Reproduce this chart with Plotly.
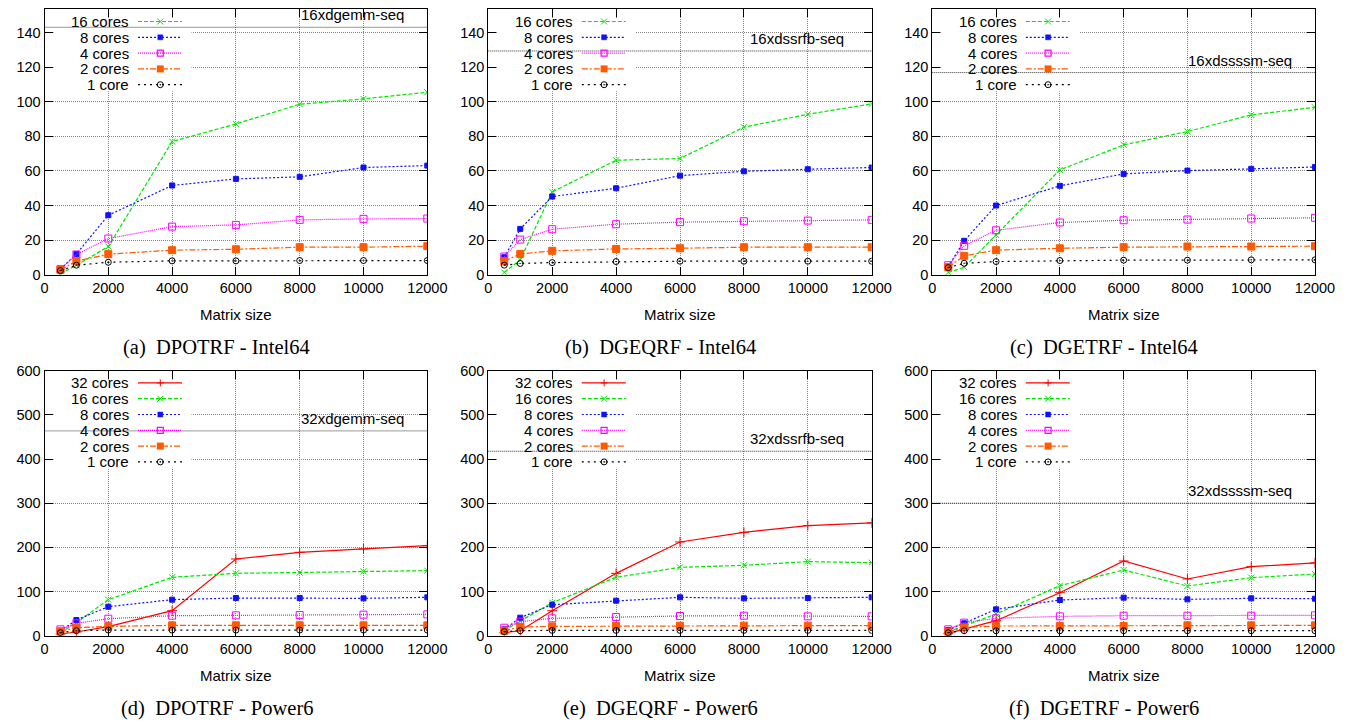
import plotly.graph_objects as go

# ---------------- data ----------------
matrix_size = [500, 1000, 2000, 4000, 6000, 8000, 10000, 12000]
series_intel = ["16 cores", "8 cores", "4 cores", "2 cores", "1 core"]
series_power = ["32 cores", "16 cores", "8 cores", "4 cores", "2 cores", "1 core"]
x_ticks = [0, 2000, 4000, 6000, 8000, 10000, 12000]
y_ticks_intel = [0, 20, 40, 60, 80, 100, 120, 140]
y_ticks_power = [0, 100, 200, 300, 400, 500, 600]

# (a) DPOTRF - Intel64
dpotrf_intel_16 = [0.5, 5.5, 16.3, 77.0, 87.2, 98.6, 101.7, 105.5]
dpotrf_intel_8 = [3.2, 12.0, 34.4, 51.6, 55.4, 56.6, 62.0, 63.1]
dpotrf_intel_4 = [3.2, 11.7, 20.9, 27.8, 28.8, 31.7, 32.3, 32.5]
dpotrf_intel_2 = [2.8, 7.8, 11.9, 14.2, 14.7, 15.9, 15.9, 16.5]
dpotrf_intel_1 = [2.4, 5.5, 7.2, 8.0, 8.0, 8.2, 8.2, 8.2]
dpotrf_intel_ref = 143.1

# (b) DGEQRF - Intel64
dgeqrf_intel_16 = [1.3, 8.6, 47.9, 66.2, 67.2, 85.3, 92.8, 98.8]
dgeqrf_intel_8 = [10.1, 26.5, 45.2, 50.0, 57.3, 59.8, 61.0, 62.0]
dgeqrf_intel_4 = [10.5, 20.3, 26.3, 29.2, 30.4, 30.9, 31.3, 31.7]
dgeqrf_intel_2 = [7.8, 12.0, 13.8, 14.9, 15.3, 15.9, 15.9, 15.9]
dgeqrf_intel_1 = [5.5, 6.5, 7.0, 7.6, 7.8, 7.8, 7.8, 7.8]
dgeqrf_intel_ref = 129.4

# (c) DGETRF - Intel64
dgetrf_intel_16 = [1.3, 4.3, 23.0, 60.6, 75.1, 82.8, 92.4, 96.8]
dgetrf_intel_8 = [4.7, 19.6, 40.0, 51.4, 58.3, 60.2, 61.2, 62.3]
dgetrf_intel_4 = [5.5, 16.7, 25.7, 30.2, 31.5, 31.9, 32.5, 32.9]
dgetrf_intel_2 = [4.3, 10.9, 14.2, 15.3, 15.9, 16.3, 16.3, 16.5]
dgetrf_intel_1 = [4.1, 6.6, 7.6, 8.2, 8.4, 8.4, 8.6, 8.6]
dgetrf_intel_ref = 116.9

# (d) DPOTRF - Power6
dpotrf_power_32 = [3.8, 8.3, 20.4, 56.6, 173.7, 188.8, 196.4, 203.9]
dpotrf_power_16 = [6.8, 29.5, 81.6, 132.2, 141.2, 142.7, 145.8, 147.3]
dpotrf_power_8 = [11.3, 35.5, 65.7, 81.6, 85.3, 85.3, 84.6, 86.9]
dpotrf_power_4 = [14.4, 28.0, 38.5, 45.3, 46.1, 46.8, 47.6, 48.3]
dpotrf_power_2 = [9.8, 18.1, 21.1, 23.4, 23.4, 23.4, 23.4, 23.4]
dpotrf_power_1 = [6.8, 11.3, 12.8, 12.8, 12.8, 12.8, 12.8, 12.8]
dpotrf_power_ref = 463.7

# (e) DGEQRF - Power6
dgeqrf_power_32 = [6.8, 11.3, 56.6, 141.2, 212.2, 234.1, 249.2, 255.3]
dgeqrf_power_16 = [11.3, 33.2, 74.8, 132.2, 154.8, 159.4, 167.7, 165.4]
dgeqrf_power_8 = [14.4, 40.8, 70.2, 79.3, 86.9, 84.6, 85.3, 86.9]
dgeqrf_power_4 = [18.1, 31.7, 39.3, 42.3, 44.6, 45.3, 43.8, 43.8]
dgeqrf_power_2 = [11.3, 19.6, 21.1, 21.9, 22.7, 22.7, 22.7, 22.7]
dgeqrf_power_1 = [9.1, 11.3, 12.1, 12.1, 12.1, 12.1, 12.1, 12.1]
dgeqrf_power_ref = 417.7

# (f) DGETRF - Power6
dgetrf_power_32 = [5.3, 14.4, 34.0, 97.4, 169.2, 128.4, 156.3, 164.7]
dgetrf_power_16 = [9.1, 21.9, 49.1, 113.3, 148.8, 112.5, 131.4, 139.7]
dgetrf_power_8 = [12.8, 28.0, 59.7, 80.8, 86.1, 82.3, 84.6, 83.8]
dgetrf_power_4 = [14.4, 29.5, 39.3, 43.8, 45.3, 45.3, 45.3, 46.1]
dgetrf_power_2 = [9.1, 18.9, 21.9, 21.9, 21.9, 23.4, 23.4, 23.4]
dgetrf_power_1 = [6.8, 11.3, 11.3, 11.3, 11.3, 11.3, 11.3, 11.3]
dgetrf_power_ref = 300.0

ref_labels = ["16xdgemm-seq", "16xdssrfb-seq", "16xdssssm-seq",
              "32xdgemm-seq", "32xdssrfb-seq", "32xdssssm-seq"]
captions = ["(a)\u00a0 DPOTRF - Intel64", "(b)\u00a0 DGEQRF - Intel64", "(c)\u00a0 DGETRF - Intel64",
            "(d)\u00a0 DPOTRF - Power6", "(e)\u00a0 DGEQRF - Power6", "(f)\u00a0 DGETRF - Power6"]
x_title = "Matrix size"

panels = [
    dict(names=series_intel, ys=[dpotrf_intel_16, dpotrf_intel_8, dpotrf_intel_4, dpotrf_intel_2, dpotrf_intel_1], ref=dpotrf_intel_ref),
    dict(names=series_intel, ys=[dgeqrf_intel_16, dgeqrf_intel_8, dgeqrf_intel_4, dgeqrf_intel_2, dgeqrf_intel_1], ref=dgeqrf_intel_ref),
    dict(names=series_intel, ys=[dgetrf_intel_16, dgetrf_intel_8, dgetrf_intel_4, dgetrf_intel_2, dgetrf_intel_1], ref=dgetrf_intel_ref),
    dict(names=series_power, ys=[dpotrf_power_32, dpotrf_power_16, dpotrf_power_8, dpotrf_power_4, dpotrf_power_2, dpotrf_power_1], ref=dpotrf_power_ref),
    dict(names=series_power, ys=[dgeqrf_power_32, dgeqrf_power_16, dgeqrf_power_8, dgeqrf_power_4, dgeqrf_power_2, dgeqrf_power_1], ref=dgeqrf_power_ref),
    dict(names=series_power, ys=[dgetrf_power_32, dgetrf_power_16, dgetrf_power_8, dgetrf_power_4, dgetrf_power_2, dgetrf_power_1], ref=dgetrf_power_ref),
]

# ---------------- styles ----------------
STYLE = {
    "32 cores": dict(color="#ff0000", dash="solid", symbol="cross-thin-open", size=7, glyph="plus"),
    "16 cores": dict(color="#00e600", dash="4px,2px", symbol="x-thin-open", size=6, glyph="x"),
    "8 cores": dict(color="#1010ff", dash="2px,2px", symbol="square", size=5, glyph="smallsq"),
    "4 cores": dict(color="#ff00ff", dash="1px,1px", symbol="square-open", size=7, glyph="opensq"),
    "2 cores": dict(color="#ff5a00", dash="6px,2px,2px,2px", symbol="square", size=7, glyph="bigsq"),
    "1 core": dict(color="#000000", dash="2px,4px", symbol="circle-open-dot", size=6, glyph="circle"),
}

W, H = 1359, 728
COL_L = [44.5, 488.3, 932.3]
COL_R = [427.3, 871.7, 1315.0]
ROW_T = [9.3, 370.7]
ROW_B = [274.7, 635.7]
Y_RANGE = [[0, 153.5], [0, 600]]
SANS = "Liberation Sans, Arial, sans-serif"
SERIF = "Liberation Serif, Times New Roman, serif"
GRID = "#858585"

fig = go.Figure()
layout = dict(width=W, height=H, margin=dict(l=0, r=0, t=0, b=0, pad=0, autoexpand=False),
              paper_bgcolor="white", plot_bgcolor="white", showlegend=False)
shapes = []
annotations = []

KEY_TEXT_X = 86.5
KEY_LINE_X0, KEY_LINE_X1, KEY_MARK_X = 93.5, 137.5, 115.8
KEY_ROW0, KEY_PITCH = 12.2, 15.8
MASK_X0, MASK_W = 9, 147
MASK_Y0 = 9
MASK_H = [82, 97]


def pshape(i, **kw):
    xr = "x domain" if i == 1 else f"x{i} domain"
    yr = "y domain" if i == 1 else f"y{i} domain"
    d = dict(xref=xr, yref=yr, xsizemode="pixel", ysizemode="pixel", xanchor=0, yanchor=1)
    d.update(kw)
    return d


def glyph_shapes(i, g, cx, cy, color):
    out = []
    if g == "plus":
        out.append(pshape(i, type="path", path=f"M{cx-3.5},{cy} L{cx+3.5},{cy} M{cx},{cy-3.5} L{cx},{cy+3.5}",
                          line=dict(color=color, width=1)))
    elif g == "x":
        out.append(pshape(i, type="path", path=f"M{cx-3},{cy-3} L{cx+3},{cy+3} M{cx-3},{cy+3} L{cx+3},{cy-3}",
                          line=dict(color=color, width=1)))
    elif g == "smallsq":
        out.append(pshape(i, type="rect", x0=cx-2.5, x1=cx+2.5, y0=cy-2.5, y1=cy+2.5,
                          fillcolor=color, line=dict(color=color, width=0.5)))
    elif g == "opensq":
        out.append(pshape(i, type="rect", x0=cx-3, x1=cx+3, y0=cy-3, y1=cy+3,
                          fillcolor="rgba(0,0,0,0)", line=dict(color=color, width=1.2)))
    elif g == "bigsq":
        out.append(pshape(i, type="rect", x0=cx-3.5, x1=cx+3.5, y0=cy-3.5, y1=cy+3.5,
                          fillcolor=color, line=dict(color=color, width=0)))
    elif g == "circle":
        out.append(pshape(i, type="circle", x0=cx-3, x1=cx+3, y0=cy-3, y1=cy+3,
                          fillcolor="rgba(0,0,0,0)", line=dict(color=color, width=1)))
        out.append(pshape(i, type="circle", x0=cx-0.8, x1=cx+0.8, y0=cy-0.8, y1=cy+0.8,
                          fillcolor=color, line=dict(color=color, width=0)))
    return out


for k, p in enumerate(panels):
    i = k + 1
    row, col = k // 3, k % 3
    xs = "" if i == 1 else str(i)
    layout[f"xaxis{xs}"] = dict(
        domain=[COL_L[col] / W, COL_R[col] / W], anchor=f"y{xs}", range=[0, 12000], automargin=False,
        tickvals=x_ticks, tickformat="d", ticks="inside", ticklen=8, tickcolor="black", tickwidth=1,
        showline=True, linecolor="black", linewidth=1, mirror="allticks",
        showgrid=True, gridcolor=GRID, gridwidth=1, griddash="1px,1px", zeroline=False,
        tickfont=dict(family=SANS, size=14.5, color="black"), fixedrange=True)
    layout[f"yaxis{xs}"] = dict(
        domain=[1 - ROW_B[row] / H, 1 - ROW_T[row] / H], anchor=f"x{xs}", range=Y_RANGE[row], automargin=False,
        tickvals=y_ticks_intel if row == 0 else y_ticks_power, tickformat="d",
        ticks="inside", ticklen=8, tickcolor="black", tickwidth=1,
        showline=True, linecolor="black", linewidth=1, mirror="allticks",
        showgrid=True, gridcolor=GRID, gridwidth=1, griddash="1px,1px", zeroline=False,
        tickfont=dict(family=SANS, size=14.5, color="black"), fixedrange=True)

    # key mask (hides the grid behind the key; no data lies in this corner)
    shapes.append(pshape(i, type="rect", x0=MASK_X0, x1=MASK_W, y0=-MASK_Y0, y1=-MASK_H[row],
                         fillcolor="white", line=dict(width=0)))
    # reference line
    shapes.append(dict(type="line", xref=f"x{xs} domain", yref=f"y{xs}", x0=0, x1=1,
                       y0=p["ref"], y1=p["ref"], line=dict(color="#333333", width=1, dash="1px,1px")))
    annotations.append(dict(xref=f"x{xs} domain", yref=f"y{xs}", x=0.805, y=p["ref"], yshift=12.5,
                            text=ref_labels[k], showarrow=False, xanchor="center", yanchor="middle",
                            font=dict(family=SANS, size=15, color="black")))

    for j, (name, yv) in enumerate(zip(p["names"], p["ys"])):
        st = STYLE[name]
        fig.add_trace(go.Scatter(
            x=matrix_size, y=yv, name=name, mode="lines+markers", xaxis=f"x{xs}", yaxis=f"y{xs}",
            line=dict(color=st["color"], width=1.2, dash=st["dash"]),
            marker=dict(symbol=st["symbol"], size=st["size"], color=st["color"],
                        line=dict(color=st["color"], width=1)),
            showlegend=False, hoverinfo="x+y+name"))
        # key entry
        ry = -(KEY_ROW0 + KEY_PITCH * j)
        annotations.append(dict(xref=f"x{xs} domain", yref=f"y{xs} domain", x=0, y=1,
                                xshift=KEY_TEXT_X, yshift=ry, text=name, showarrow=False,
                                xanchor="right", yanchor="middle",
                                font=dict(family=SANS, size=15, color="black")))
        shapes.append(pshape(i, type="line", x0=KEY_LINE_X0, x1=KEY_LINE_X1, y0=ry, y1=ry,
                             line=dict(color=st["color"], width=1.2, dash=st["dash"])))
        shapes.extend(glyph_shapes(i, st["glyph"], KEY_MARK_X, ry, st["color"]))

    # x title and caption
    cx = (COL_L[col] + COL_R[col]) / 2 / W
    annotations.append(dict(xref="paper", yref="paper", x=cx, y=1 - (314 if row == 0 else 675) / H,
                            text=x_title, showarrow=False, xanchor="center", yanchor="middle",
                            font=dict(family=SANS, size=15, color="black")))
    annotations.append(dict(xref="paper", yref="paper", x=(COL_L[col] + 172) / W,
                            y=1 - (347.5 if row == 0 else 708.5) / H,
                            text=captions[k], showarrow=False, xanchor="center", yanchor="middle",
                            font=dict(family=SERIF, size=20.5, color="black")))

layout["shapes"] = shapes
layout["annotations"] = annotations
fig.update_layout(**layout)
fig.write_html("out.html")
